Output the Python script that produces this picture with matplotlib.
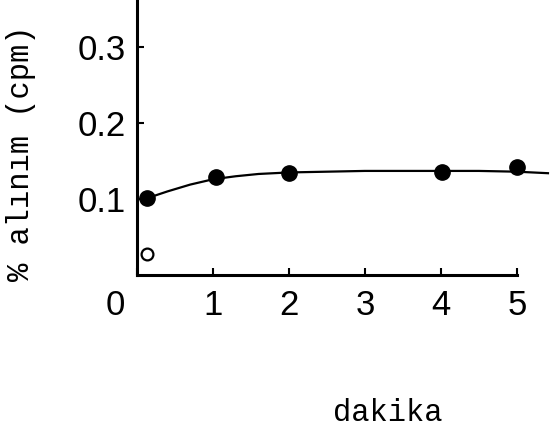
import matplotlib
matplotlib.use('Agg')
import matplotlib.pyplot as plt
from matplotlib.transforms import ScaledTranslation

# veri
dakika = [0.13, 1.04, 2.0, 4.02, 5.0]
alinim = [0.101, 0.129, 0.134, 0.135, 0.142]
acik_x = [0.13]
acik_y = [0.028]
# çizilmiş eğri
egri_x = [0.13, 0.4, 0.7, 1.0, 1.3, 1.6, 2.0, 2.5, 3.0, 3.5, 4.0, 4.5, 5.0, 5.41]
egri_y = [0.101, 0.110, 0.119, 0.126, 0.130, 0.133, 0.135, 0.136, 0.137, 0.137, 0.137, 0.137, 0.136, 0.134]
x_ticks = [0, 1, 2, 3, 4, 5]
y_ticks = [0.1, 0.2, 0.3]
y_labels = ['0.1', '0.2', '0.3']

fig = plt.figure(figsize=(5.58, 4.37), dpi=100)
ax = fig.add_axes([137 / 558, 1 - 275 / 437, 414 / 558, 275 / 437])

ax.plot(egri_x, egri_y, color='black', lw=1.6, zorder=2)
ax.plot(dakika, alinim, 'o', color='black', ms=11, zorder=3)
ax.plot(acik_x, acik_y, 'o', mfc='white', mec='black', mew=1.6, ms=8.5, zorder=3)

ax.set_xlim(0, 5.45)
ax.set_ylim(0, 0.362)
for s in ['top', 'right']:
    ax.spines[s].set_visible(False)
ax.spines['left'].set_linewidth(2.2)
ax.spines['bottom'].set_linewidth(2.2)
ax.spines['bottom'].set_bounds(0, 5)

tick_font = {'family': ['Liberation Sans', 'DejaVu Sans'], 'size': 25}
ax.set_xticks(x_ticks)
ax.set_xticklabels([str(t) for t in x_ticks], fontdict=tick_font)
ax.set_yticks(y_ticks)
ax.set_yticklabels(y_labels, fontdict=tick_font)
ax.tick_params(direction='in', length=5, width=1.5, pad=8)
ax.tick_params(axis='x', pad=10)

# "0" etiketi sola kaymış
lbl0 = ax.get_xticklabels()[0]
lbl0.set_transform(lbl0.get_transform() + ScaledTranslation(-22 / 100, 0, fig.dpi_scale_trans))

mono = {'family': ['Liberation Mono', 'DejaVu Sans Mono'], 'size': 22}
fig.text(21 / 558, 1 - 153 / 437, '% alınım (cpm)', rotation=90, ha='center', va='center', fontdict=mono)
fig.text(388 / 558, 1 - 413 / 437, 'dakika', ha='center', va='center', fontdict=mono)

fig.savefig('out.png', dpi=100)
